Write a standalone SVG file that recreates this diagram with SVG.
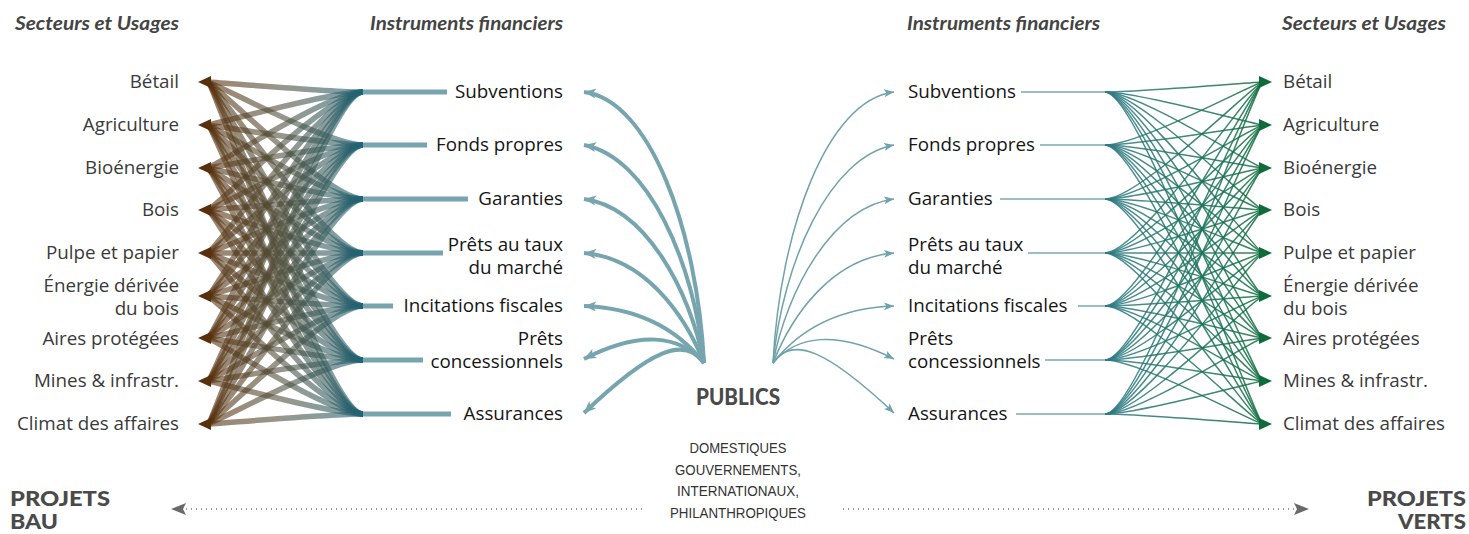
<svg xmlns="http://www.w3.org/2000/svg" width="1469" height="534" viewBox="0 0 1469 534">
<style>
text{font-family:"Open Sans","Noto Sans","Liberation Sans",sans-serif;}
.lbl{font-size:18.8px;fill:#3a3a3a;}
.ins{font-size:18.8px;fill:#151515;}
.hd{font-family:Lato,"Open Sans",sans-serif;font-size:18px;font-weight:bold;font-style:italic;fill:#444;}
.big{font-family:Lato,"Open Sans",sans-serif;font-size:21px;font-weight:900;fill:#4a4a4a;}
.pub{font-family:Lato,"Open Sans",sans-serif;font-size:22px;font-weight:900;fill:#4a4a4a;}
.sub{font-family:"Liberation Sans",sans-serif;font-size:15px;fill:#333;}
.lf path{fill:none;stroke:url(#gl);stroke-width:5.5;stroke-opacity:.6;}
.rf path{fill:none;stroke:url(#gr);stroke-width:1.5;stroke-opacity:.85;}
.la path{fill:none;stroke:#76a5af;stroke-width:4;marker-end:url(#ma);}
.ra path{fill:none;stroke:#6fa2ab;stroke-width:1.5;marker-end:url(#mb);}
.bar{stroke:#76a5af;stroke-width:5;}
.rbar{stroke:#7aa8b1;stroke-width:1.5;}
.dot{stroke:#777;stroke-width:1.5;stroke-dasharray:1 4;fill:none;}
</style>
<defs>
<linearGradient id="gl" gradientUnits="userSpaceOnUse" x1="207" y1="0" x2="363" y2="0">
<stop offset="0" stop-color="#58300c"/><stop offset=".45" stop-color="#53503c"/><stop offset="1" stop-color="#1f6476"/>
</linearGradient>
<linearGradient id="gr" gradientUnits="userSpaceOnUse" x1="1105" y1="0" x2="1263" y2="0">
<stop offset="0" stop-color="#2f7a86"/><stop offset="1" stop-color="#0f6e3e"/>
</linearGradient>
<marker id="ma" markerUnits="userSpaceOnUse" markerWidth="14" markerHeight="12" refX="12" refY="5" orient="auto"><path d="M0,0L12,5L0,10L3,5z" fill="#76a5af"/></marker>
<marker id="mb" markerUnits="userSpaceOnUse" markerWidth="12" markerHeight="10" refX="10" refY="4" orient="auto"><path d="M0,0L10,4L0,8L2.5,4z" fill="#6fa2ab"/></marker>
</defs>
<rect width="1469" height="534" fill="#fff"/>
<g id="connectors">
<g class="lf">
<path d="M363 92C328 92 214 82 207 82"/><path d="M363 92C328 92 214 125 207 125"/><path d="M363 92C328 92 214 168 207 168"/><path d="M363 92C328 92 214 210 207 210"/><path d="M363 92C328 92 214 253 207 253"/><path d="M363 92C328 92 214 296 207 296"/><path d="M363 92C328 92 214 338 207 338"/><path d="M363 92C328 92 214 381 207 381"/><path d="M363 92C328 92 214 424 207 424"/>
<path d="M363 145C328 145 214 82 207 82"/><path d="M363 145C328 145 214 125 207 125"/><path d="M363 145C328 145 214 168 207 168"/><path d="M363 145C328 145 214 210 207 210"/><path d="M363 145C328 145 214 253 207 253"/><path d="M363 145C328 145 214 296 207 296"/><path d="M363 145C328 145 214 338 207 338"/><path d="M363 145C328 145 214 381 207 381"/><path d="M363 145C328 145 214 424 207 424"/>
<path d="M363 199C328 199 214 82 207 82"/><path d="M363 199C328 199 214 125 207 125"/><path d="M363 199C328 199 214 168 207 168"/><path d="M363 199C328 199 214 210 207 210"/><path d="M363 199C328 199 214 253 207 253"/><path d="M363 199C328 199 214 296 207 296"/><path d="M363 199C328 199 214 338 207 338"/><path d="M363 199C328 199 214 381 207 381"/><path d="M363 199C328 199 214 424 207 424"/>
<path d="M363 253C328 253 214 82 207 82"/><path d="M363 253C328 253 214 125 207 125"/><path d="M363 253C328 253 214 168 207 168"/><path d="M363 253C328 253 214 210 207 210"/><path d="M363 253C328 253 214 253 207 253"/><path d="M363 253C328 253 214 296 207 296"/><path d="M363 253C328 253 214 338 207 338"/><path d="M363 253C328 253 214 381 207 381"/><path d="M363 253C328 253 214 424 207 424"/>
<path d="M363 306C328 306 214 82 207 82"/><path d="M363 306C328 306 214 125 207 125"/><path d="M363 306C328 306 214 168 207 168"/><path d="M363 306C328 306 214 210 207 210"/><path d="M363 306C328 306 214 253 207 253"/><path d="M363 306C328 306 214 296 207 296"/><path d="M363 306C328 306 214 338 207 338"/><path d="M363 306C328 306 214 381 207 381"/><path d="M363 306C328 306 214 424 207 424"/>
<path d="M363 360C328 360 214 82 207 82"/><path d="M363 360C328 360 214 125 207 125"/><path d="M363 360C328 360 214 168 207 168"/><path d="M363 360C328 360 214 210 207 210"/><path d="M363 360C328 360 214 253 207 253"/><path d="M363 360C328 360 214 296 207 296"/><path d="M363 360C328 360 214 338 207 338"/><path d="M363 360C328 360 214 381 207 381"/><path d="M363 360C328 360 214 424 207 424"/>
<path d="M363 414C328 414 214 82 207 82"/><path d="M363 414C328 414 214 125 207 125"/><path d="M363 414C328 414 214 168 207 168"/><path d="M363 414C328 414 214 210 207 210"/><path d="M363 414C328 414 214 253 207 253"/><path d="M363 414C328 414 214 296 207 296"/><path d="M363 414C328 414 214 338 207 338"/><path d="M363 414C328 414 214 381 207 381"/><path d="M363 414C328 414 214 424 207 424"/>
</g>
<g fill="#58300c">
<polygon points="198,82 211,76 211,88"/><polygon points="198,125 211,119 211,131"/><polygon points="198,168 211,162 211,174"/><polygon points="198,210 211,204 211,216"/><polygon points="198,253 211,247 211,259"/><polygon points="198,296 211,290 211,302"/><polygon points="198,338 211,332 211,344"/><polygon points="198,381 211,375 211,387"/><polygon points="198,424 211,418 211,430"/>
</g>
<g class="rf">
<path d="M1105 92C1140 92 1256 82 1263 82"/><path d="M1105 92C1140 92 1256 125 1263 125"/><path d="M1105 92C1140 92 1256 168 1263 168"/><path d="M1105 92C1140 92 1256 210 1263 210"/><path d="M1105 92C1140 92 1256 253 1263 253"/><path d="M1105 92C1140 92 1256 296 1263 296"/><path d="M1105 92C1140 92 1256 338 1263 338"/><path d="M1105 92C1140 92 1256 381 1263 381"/><path d="M1105 92C1140 92 1256 424 1263 424"/>
<path d="M1105 145C1140 145 1256 82 1263 82"/><path d="M1105 145C1140 145 1256 125 1263 125"/><path d="M1105 145C1140 145 1256 168 1263 168"/><path d="M1105 145C1140 145 1256 210 1263 210"/><path d="M1105 145C1140 145 1256 253 1263 253"/><path d="M1105 145C1140 145 1256 296 1263 296"/><path d="M1105 145C1140 145 1256 338 1263 338"/><path d="M1105 145C1140 145 1256 381 1263 381"/><path d="M1105 145C1140 145 1256 424 1263 424"/>
<path d="M1105 199C1140 199 1256 82 1263 82"/><path d="M1105 199C1140 199 1256 125 1263 125"/><path d="M1105 199C1140 199 1256 168 1263 168"/><path d="M1105 199C1140 199 1256 210 1263 210"/><path d="M1105 199C1140 199 1256 253 1263 253"/><path d="M1105 199C1140 199 1256 296 1263 296"/><path d="M1105 199C1140 199 1256 338 1263 338"/><path d="M1105 199C1140 199 1256 381 1263 381"/><path d="M1105 199C1140 199 1256 424 1263 424"/>
<path d="M1105 253C1140 253 1256 82 1263 82"/><path d="M1105 253C1140 253 1256 125 1263 125"/><path d="M1105 253C1140 253 1256 168 1263 168"/><path d="M1105 253C1140 253 1256 210 1263 210"/><path d="M1105 253C1140 253 1256 253 1263 253"/><path d="M1105 253C1140 253 1256 296 1263 296"/><path d="M1105 253C1140 253 1256 338 1263 338"/><path d="M1105 253C1140 253 1256 381 1263 381"/><path d="M1105 253C1140 253 1256 424 1263 424"/>
<path d="M1105 306C1140 306 1256 82 1263 82"/><path d="M1105 306C1140 306 1256 125 1263 125"/><path d="M1105 306C1140 306 1256 168 1263 168"/><path d="M1105 306C1140 306 1256 210 1263 210"/><path d="M1105 306C1140 306 1256 253 1263 253"/><path d="M1105 306C1140 306 1256 296 1263 296"/><path d="M1105 306C1140 306 1256 338 1263 338"/><path d="M1105 306C1140 306 1256 381 1263 381"/><path d="M1105 306C1140 306 1256 424 1263 424"/>
<path d="M1105 360C1140 360 1256 82 1263 82"/><path d="M1105 360C1140 360 1256 125 1263 125"/><path d="M1105 360C1140 360 1256 168 1263 168"/><path d="M1105 360C1140 360 1256 210 1263 210"/><path d="M1105 360C1140 360 1256 253 1263 253"/><path d="M1105 360C1140 360 1256 296 1263 296"/><path d="M1105 360C1140 360 1256 338 1263 338"/><path d="M1105 360C1140 360 1256 381 1263 381"/><path d="M1105 360C1140 360 1256 424 1263 424"/>
<path d="M1105 414C1140 414 1256 82 1263 82"/><path d="M1105 414C1140 414 1256 125 1263 125"/><path d="M1105 414C1140 414 1256 168 1263 168"/><path d="M1105 414C1140 414 1256 210 1263 210"/><path d="M1105 414C1140 414 1256 253 1263 253"/><path d="M1105 414C1140 414 1256 296 1263 296"/><path d="M1105 414C1140 414 1256 338 1263 338"/><path d="M1105 414C1140 414 1256 381 1263 381"/><path d="M1105 414C1140 414 1256 424 1263 424"/>
</g>
<g fill="#0f6b3c">
<polygon points="1272,82 1259,76 1259,88"/><polygon points="1272,125 1259,119 1259,131"/><polygon points="1272,168 1259,162 1259,174"/><polygon points="1272,210 1259,204 1259,216"/><polygon points="1272,253 1259,247 1259,259"/><polygon points="1272,296 1259,290 1259,302"/><polygon points="1272,338 1259,332 1259,344"/><polygon points="1272,381 1259,375 1259,387"/><polygon points="1272,424 1259,418 1259,430"/>
</g>
<g class="la">
<path d="M704 363C697 230 650 100 584 92"/>
<path d="M704 363C694 262 648 157 584 145"/>
<path d="M704 363C690 290 645 207 584 199"/>
<path d="M704 363C685 315 645 258 584 253"/>
<path d="M704 363C678 330 640 308 584 306"/>
<path d="M704 363C680 335 640 330 584 359"/>
<path d="M704 363C685 335 650 350 584 413"/>
</g>
<g class="ra">
<path d="M773 363C780 230 827 100 894 92"/>
<path d="M773 363C783 262 829 157 894 145"/>
<path d="M773 363C787 290 832 207 894 199"/>
<path d="M773 363C792 315 832 258 894 253"/>
<path d="M773 363C799 330 837 308 894 306"/>
<path d="M773 363C797 335 837 330 894 359"/>
<path d="M773 363C792 335 827 350 894 413"/>
</g>
<g>
<line class="bar" x1="363" y1="92" x2="447" y2="92"/>
<line class="bar" x1="363" y1="145" x2="427" y2="145"/>
<line class="bar" x1="363" y1="199" x2="468" y2="199"/>
<line class="bar" x1="363" y1="253" x2="443" y2="253"/>
<line class="bar" x1="363" y1="306" x2="393" y2="306"/>
<line class="bar" x1="363" y1="360" x2="423" y2="360"/>
<line class="bar" x1="363" y1="414" x2="451" y2="414"/>
<line class="rbar" x1="1021" y1="92" x2="1105" y2="92"/>
<line class="rbar" x1="1040" y1="145" x2="1105" y2="145"/>
<line class="rbar" x1="1000" y1="199" x2="1105" y2="199"/>
<line class="rbar" x1="1028" y1="253" x2="1105" y2="253"/>
<line class="rbar" x1="1078" y1="306" x2="1105" y2="306"/>
<line class="rbar" x1="1045" y1="360" x2="1105" y2="360"/>
<line class="rbar" x1="1016" y1="414" x2="1105" y2="414"/>
</g>
<g id="bau-arrow"><line class="dot" x1="186" y1="509" x2="645" y2="509"/><polygon points="171,509 186,503 183,509 186,515" fill="#6a6a6a"/></g>
<g id="verts-arrow"><line class="dot" x1="843" y1="509" x2="1294" y2="509"/><polygon points="1309,509 1294,503 1297,509 1294,515" fill="#6a6a6a"/></g>
</g>
<g id="headers">
<text class="hd" x="179" y="30" text-anchor="end" textLength="164" lengthAdjust="spacingAndGlyphs">Secteurs et Usages</text>
<text class="hd" x="563" y="30" text-anchor="end" textLength="193" lengthAdjust="spacingAndGlyphs">Instruments financiers</text>
<text class="hd" x="907" y="30" textLength="193" lengthAdjust="spacingAndGlyphs">Instruments financiers</text>
<text class="hd" x="1446" y="30" text-anchor="end" textLength="164" lengthAdjust="spacingAndGlyphs">Secteurs et Usages</text>
</g>
<g id="left-sectors">
<g id="ls-betail"><text class="lbl" x="179" y="88" text-anchor="end">Bétail</text></g>
<g id="ls-agri"><text class="lbl" x="179" y="131" text-anchor="end">Agriculture</text></g>
<g id="ls-bioen"><text class="lbl" x="179" y="174" text-anchor="end">Bioénergie</text></g>
<g id="ls-bois"><text class="lbl" x="179" y="216" text-anchor="end">Bois</text></g>
<g id="ls-pulpe"><text class="lbl" x="179" y="259" text-anchor="end">Pulpe et papier</text></g>
<g id="ls-energie"><text class="lbl" text-anchor="end"><tspan x="179" y="292">Énergie dérivée</tspan><tspan x="179" y="315">du bois</tspan></text></g>
<g id="ls-aires"><text class="lbl" x="179" y="345" text-anchor="end">Aires protégées</text></g>
<g id="ls-mines"><text class="lbl" x="179" y="387" text-anchor="end">Mines &amp; infrastr.</text></g>
<g id="ls-climat"><text class="lbl" x="179" y="430" text-anchor="end">Climat des affaires</text></g>
</g>
<g id="left-instruments">
<g id="li-sub"><text class="ins" x="563" y="98" text-anchor="end">Subventions</text></g>
<g id="li-fonds"><text class="ins" x="563" y="151" text-anchor="end">Fonds propres</text></g>
<g id="li-gar"><text class="ins" x="563" y="205" text-anchor="end">Garanties</text></g>
<g id="li-pret"><text class="ins" text-anchor="end"><tspan x="563" y="251">Prêts au taux</tspan><tspan x="563" y="274">du marché</tspan></text></g>
<g id="li-inc"><text class="ins" x="563" y="312" text-anchor="end">Incitations fiscales</text></g>
<g id="li-conc"><text class="ins" text-anchor="end"><tspan x="563" y="345">Prêts</tspan><tspan x="563" y="368">concessionnels</tspan></text></g>
<g id="li-ass"><text class="ins" x="563" y="420" text-anchor="end">Assurances</text></g>
</g>
<g id="right-instruments">
<g id="ri-sub"><text class="ins" x="908" y="98">Subventions</text></g>
<g id="ri-fonds"><text class="ins" x="908" y="151">Fonds propres</text></g>
<g id="ri-gar"><text class="ins" x="908" y="205">Garanties</text></g>
<g id="ri-pret"><text class="ins"><tspan x="908" y="251">Prêts au taux</tspan><tspan x="908" y="274">du marché</tspan></text></g>
<g id="ri-inc"><text class="ins" x="908" y="312">Incitations fiscales</text></g>
<g id="ri-conc"><text class="ins"><tspan x="908" y="345">Prêts</tspan><tspan x="908" y="368">concessionnels</tspan></text></g>
<g id="ri-ass"><text class="ins" x="908" y="420">Assurances</text></g>
</g>
<g id="right-sectors">
<g id="rs-betail"><text class="lbl" x="1283" y="88">Bétail</text></g>
<g id="rs-agri"><text class="lbl" x="1283" y="131">Agriculture</text></g>
<g id="rs-bioen"><text class="lbl" x="1283" y="174">Bioénergie</text></g>
<g id="rs-bois"><text class="lbl" x="1283" y="216">Bois</text></g>
<g id="rs-pulpe"><text class="lbl" x="1283" y="259">Pulpe et papier</text></g>
<g id="rs-energie"><text class="lbl"><tspan x="1283" y="292">Énergie dérivée</tspan><tspan x="1283" y="315">du bois</tspan></text></g>
<g id="rs-aires"><text class="lbl" x="1283" y="345">Aires protégées</text></g>
<g id="rs-mines"><text class="lbl" x="1283" y="387">Mines &amp; infrastr.</text></g>
<g id="rs-climat"><text class="lbl" x="1283" y="430">Climat des affaires</text></g>
</g>
<g id="publics">
<text class="pub" x="738" y="405" text-anchor="middle" textLength="84" lengthAdjust="spacingAndGlyphs">PUBLICS</text>
<text class="sub" text-anchor="middle"><tspan x="738" y="453" textLength="97" lengthAdjust="spacingAndGlyphs">DOMESTIQUES</tspan><tspan x="738" y="474.5" textLength="126" lengthAdjust="spacingAndGlyphs">GOUVERNEMENTS,</tspan><tspan x="738" y="496" textLength="122" lengthAdjust="spacingAndGlyphs">INTERNATIONAUX,</tspan><tspan x="738" y="517.5" textLength="136" lengthAdjust="spacingAndGlyphs">PHILANTHROPIQUES</tspan></text>
</g>
<g id="bau"><text class="big"><tspan x="10" y="506" textLength="100" lengthAdjust="spacingAndGlyphs">PROJETS</tspan><tspan x="10" y="529" textLength="48" lengthAdjust="spacingAndGlyphs">BAU</tspan></text></g>
<g id="verts"><text class="big" text-anchor="end"><tspan x="1466" y="506" textLength="99" lengthAdjust="spacingAndGlyphs">PROJETS</tspan><tspan x="1466" y="529" textLength="68" lengthAdjust="spacingAndGlyphs">VERTS</tspan></text></g>
</svg>
